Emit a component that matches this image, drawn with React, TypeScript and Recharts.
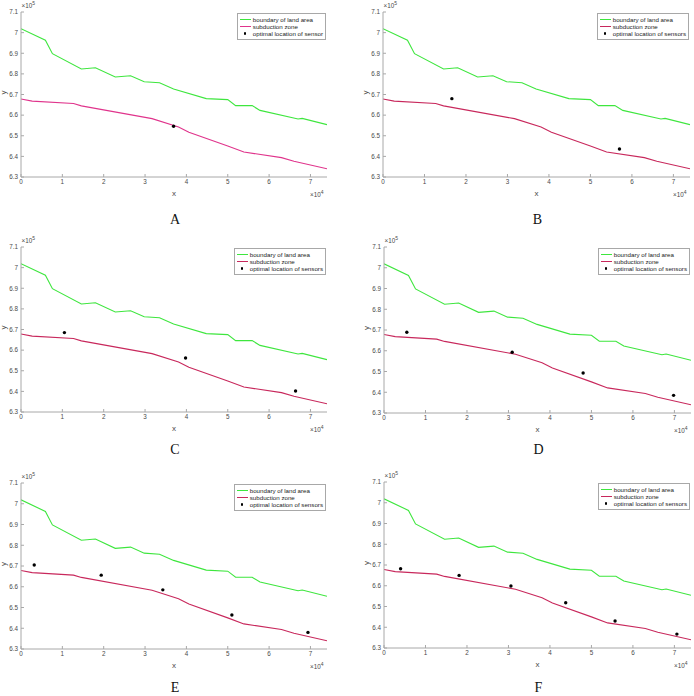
import React from 'react';
import { ComposedChart, Line, Scatter, XAxis, YAxis, Legend } from 'recharts';

// ---------- data ----------
const boundaryX = [0, 5900, 7600, 14600, 18000, 22800, 26500, 29800, 33500, 36900, 44800, 50000, 51900, 55900, 57800, 67000, 68000, 74000];
const boundaryY = [701900, 696300, 689800, 682400, 683000, 678500, 679100, 676200, 675700, 672700, 668000, 667500, 664600, 664600, 662300, 658100, 658400, 655400];

const subductionX = [0, 2700, 12700, 14600, 31700, 38100, 40600, 50000, 53900, 63000, 66000, 74000];
const subductionY = [667800, 666800, 665600, 664500, 658300, 654200, 651700, 645000, 642100, 639400, 637600, 634000];

const sensorsAX = [36900];
const sensorsAY = [654600];
const sensorsBX = [16600, 57000];
const sensorsBY = [668000, 643600];
const sensorsCX = [10500, 39800, 66400];
const sensorsCY = [668500, 656200, 640200];
const sensorsDX = [5500, 30900, 48000, 69800];
const sensorsDY = [668900, 659300, 649300, 638500];
const sensorsEX = [3200, 19400, 34300, 51000, 69400];
const sensorsEY = [670500, 665600, 658500, 646400, 638000];
const sensorsFX = [4000, 18100, 30600, 43800, 55700, 70600];
const sensorsFY = [668200, 665000, 659900, 651800, 643000, 636700];

const xTicks = [0, 10000, 20000, 30000, 40000, 50000, 60000, 70000];
const xTickLabels = ['0', '1', '2', '3', '4', '5', '6', '7'];
const yTicks = [630000, 640000, 650000, 660000, 670000, 680000, 690000, 700000, 710000];
const yTickLabels = ['6.3', '6.4', '6.5', '6.6', '6.7', '6.8', '6.9', '7', '7.1'];

const panelLetters = ['A', 'B', 'C', 'D', 'E', 'F'];
const seriesNames = ['boundary of land area', 'subduction zone'];
const sensorNames = ['optimal location of sensor', 'optimal location of sensors', 'optimal location of sensors', 'optimal location of sensors', 'optimal location of sensors', 'optimal location of sensors'];

const zip = (xs: number[], ys: number[]) => xs.map((x, i) => ({ x, y: ys[i] }));
const boundaryData = zip(boundaryX, boundaryY);
const subductionData = zip(subductionX, subductionY);
const sensorSets = [
  zip(sensorsAX, sensorsAY),
  zip(sensorsBX, sensorsBY),
  zip(sensorsCX, sensorsCY),
  zip(sensorsDX, sensorsDY),
  zip(sensorsEX, sensorsEY),
  zip(sensorsFX, sensorsFY),
];

// ---------- layout / style ----------
const GREEN = '#3ee63e';
const RED_A = '#e0348c';
const RED = '#c8285c';
const AXIS = '#a8a8a8';
const TXT = '#4a4a4a';
const FONT = '"Liberation Sans", Arial, Helvetica, sans-serif';
const TICK_FS = 6.3;

const layouts = [
  { originX: 0, plotLeft: 21, plotRight: 327, plotTop: 12, plotBottom: 177, letterY: 220 },
  { originX: 347, plotLeft: 383, plotRight: 690, plotTop: 12, plotBottom: 177, letterY: 220 },
  { originX: 0, plotLeft: 21, plotRight: 327, plotTop: 247, plotBottom: 412, letterY: 450 },
  { originX: 347, plotLeft: 384, plotRight: 691, plotTop: 247, plotBottom: 413, letterY: 450 },
  { originX: 0, plotLeft: 21, plotRight: 327, plotTop: 483, plotBottom: 649, letterY: 688 },
  { originX: 347, plotLeft: 384, plotRight: 691, plotTop: 482, plotBottom: 648, letterY: 688 },
];

const Dot = (props: any) => {
  const { cx, cy } = props;
  if (cx == null || cy == null) return null;
  return <circle cx={cx} cy={cy} r={1.7} fill="#000" />;
};

const XTick = (props: any) => {
  const { x, y, payload } = props;
  const i = xTicks.indexOf(payload?.value);
  return (
    <text x={x} y={y} dy="0.72em" textAnchor="middle" fill={TXT} fontSize={TICK_FS} fontFamily={FONT}>
      {i >= 0 ? xTickLabels[i] : ''}
    </text>
  );
};

const YTick = (props: any) => {
  const { x, y, payload } = props;
  const i = yTicks.indexOf(payload?.value);
  return (
    <text x={x} y={y} dy="0.36em" textAnchor="end" fill={TXT} fontSize={TICK_FS} fontFamily={FONT}>
      {i >= 0 ? yTickLabels[i] : ''}
    </text>
  );
};

function LegendBox({ redColor, sensorName }: { redColor: string; sensorName: string }) {
  const row: React.CSSProperties = { display: 'flex', alignItems: 'center', height: 7, whiteSpace: 'nowrap' };
  const sample = (c: string) => (
    <span style={{ display: 'inline-block', width: 11, height: 1.2, background: c, marginRight: 2 }} />
  );
  return (
    <div style={{ border: `1px solid ${AXIS}`, background: '#fff', padding: '2px 2px 2px 2px', fontFamily: FONT, fontSize: 6.2, color: '#222', lineHeight: '7px' }}>
      <div style={row}>{sample(GREEN)}<span>{seriesNames[0]}</span></div>
      <div style={row}>{sample(redColor)}<span>{seriesNames[1]}</span></div>
      <div style={row}>
        <span style={{ display: 'inline-block', width: 11, marginRight: 2, position: 'relative', height: 7 }}>
          <span style={{ position: 'absolute', left: 4, top: 2.3, width: 2.6, height: 2.6, borderRadius: '50%', background: '#000' }} />
        </span>
        <span>{sensorName}</span>
      </div>
    </div>
  );
}

function Panel({ idx }: { idx: number }) {
  const L = layouts[idx];
  const chartW = 347;
  const topM = 12;
  const xH = 40;
  const plotH = L.plotBottom - L.plotTop;
  const chartH = topM + plotH + xH;
  const yW = L.plotLeft - L.originX;
  const rightM = chartW - (L.plotRight - L.originX);
  const redColor = idx === 0 ? RED_A : RED;
  const plotCenter = (L.plotLeft + L.plotRight) / 2;

  return (
    <>
      <div style={{ position: 'absolute', left: L.originX, top: L.plotTop - topM, width: chartW, height: chartH }}>
        <ComposedChart width={chartW} height={chartH} margin={{ top: topM, right: rightM, left: 0, bottom: 0 }}>
          <XAxis
            dataKey="x"
            type="number"
            domain={[0, 74000]}
            ticks={xTicks}
            interval={0}
            height={xH}
            stroke={AXIS}
            tickSize={-3}
            tickMargin={5}
            tick={XTick}
            allowDataOverflow
            label={{ value: 'x', position: 'insideBottom', offset: xH - 19, fill: TXT, fontSize: 8, fontFamily: FONT }}
          />
          <XAxis
            xAxisId="top"
            orientation="top"
            type="number"
            domain={[0, 74000]}
            ticks={xTicks}
            interval={0}
            height={0}
            stroke={AXIS}
            tickSize={-3}
            tick={false}
            allowDataOverflow
          />
          <YAxis
            dataKey="y"
            type="number"
            domain={[630000, 710000]}
            ticks={yTicks}
            interval={0}
            width={yW}
            stroke={AXIS}
            tickSize={-3}
            tickMargin={6}
            tick={YTick}
            allowDataOverflow
            label={{ value: 'y', angle: -90, position: 'insideLeft', offset: yW - 17.5, fill: TXT, fontSize: 8, fontFamily: FONT }}
          />
          <YAxis
            yAxisId="right"
            orientation="right"
            type="number"
            domain={[630000, 710000]}
            ticks={yTicks}
            interval={0}
            width={0}
            stroke={AXIS}
            tickSize={-3}
            tick={false}
            allowDataOverflow
          />
          <Line
            data={boundaryData}
            dataKey="y"
            name={seriesNames[0]}
            stroke={GREEN}
            strokeWidth={1.1}
            dot={false}
            activeDot={false}
            isAnimationActive={false}
          />
          <Line
            data={subductionData}
            dataKey="y"
            name={seriesNames[1]}
            stroke={redColor}
            strokeWidth={1.1}
            dot={false}
            activeDot={false}
            isAnimationActive={false}
          />
          <Scatter
            data={sensorSets[idx]}
            dataKey="y"
            name={sensorNames[idx]}
            fill="#000"
            shape={Dot}
            isAnimationActive={false}
          />
          <Legend
            layout="horizontal"
            verticalAlign="middle"
            align="center"
            wrapperStyle={{ position: 'absolute', top: topM + 1, right: rightM + 1, left: 'auto', bottom: 'auto', width: 'auto', height: 'auto' }}
            content={() => <LegendBox redColor={redColor} sensorName={sensorNames[idx]} />}
          />
        </ComposedChart>
      </div>
      {/* axis exponent labels */}
      <div style={{ position: 'absolute', left: L.plotLeft + 0.5, top: L.plotTop - 10, fontFamily: FONT, fontSize: 6.3, color: TXT, whiteSpace: 'nowrap', lineHeight: '8px' }}>
        ×10<span style={{ position: 'relative', top: -3, fontSize: 5 }}>5</span>
      </div>
      <div style={{ position: 'absolute', left: L.plotRight - 17, top: L.plotBottom + 14, fontFamily: FONT, fontSize: 6.3, color: TXT, whiteSpace: 'nowrap', lineHeight: '8px' }}>
        ×10<span style={{ position: 'relative', top: -3, fontSize: 5 }}>4</span>
      </div>
      {/* panel letter */}
      <div style={{ position: 'absolute', left: plotCenter + 1 - 20, width: 40, top: L.letterY - 8, textAlign: 'center', fontFamily: '"Liberation Serif", "Times New Roman", serif', fontSize: 14, lineHeight: '16px', color: '#111' }}>
        {panelLetters[idx]}
      </div>
    </>
  );
}

export default function App() {
  return (
    <div style={{ position: 'absolute', left: 0, top: 0, width: 694, height: 696, background: '#fff', overflow: 'hidden' }}>
      {layouts.map((_, i) => (
        <Panel key={i} idx={i} />
      ))}
    </div>
  );
}
